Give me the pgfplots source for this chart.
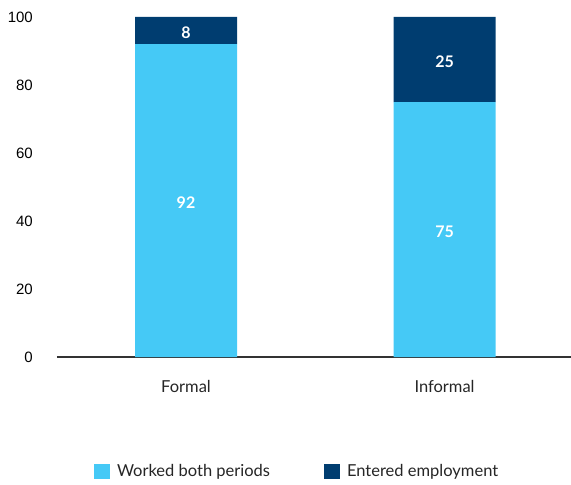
\documentclass[border=0pt]{standalone}
\usepackage{pgfplots}
\pgfplotsset{compat=1.18}
\usepackage{fontspec}
\setmainfont{Lato}
\newfontfamily\tickfont{Liberation Sans}
\definecolor{lightblue}{HTML}{45C9F6}
\definecolor{navy}{HTML}{003D70}
\pgfplotsset{sqlegend/.style={legend image code/.code={\fill[##1] (0pt,-7.5pt) rectangle (16pt,7.5pt);}}}
\begin{document}
\begin{tikzpicture}
\path[use as bounding box] (-57pt,-128pt) rectangle (514pt,357pt);
\begin{axis}[
  scale only axis,
  width=514pt, height=340pt,
  ybar stacked,
  bar width=102pt,
  xmin=-0.499, xmax=1.489,
  ymin=0, ymax=100,
  xtick={0,1}, xticklabels={Formal,Informal},
  ytick={0,20,40,60,80,100},
  major tick length=0pt,
  axis lines*=left,
  y axis line style={draw=none},
  x axis line style={-, draw=black!80, line width=1.2pt},
  /pgf/number format/assume math mode=true,
  yticklabel style={font=\fontsize{15}{18}\selectfont\tickfont, anchor=east, inner sep=0pt, xshift=-24pt},
  xticklabel style={font=\fontsize{16.5}{19}\selectfont, text=black!85, anchor=center, inner sep=0pt, yshift=-29pt},
  point meta=rawy,
  nodes near coords,
  every node near coord/.append style={font=\fontsize{16}{19}\selectfont\bfseries, text=white, anchor=center, yshift=-2.5pt},
  legend columns=2,
  legend style={draw=none, at={(0.072,-0.3353)}, anchor=west, inner sep=0pt, outer sep=0pt,
    font=\fontsize{16.5}{19}\selectfont, text=black!85,
    nodes={inner sep=0pt},
    /tikz/every odd column/.append style={column sep=7pt},
    /tikz/every even column/.append style={column sep=54pt}},
  clip=false,
]
\addplot[fill=lightblue, draw=none, sqlegend] coordinates {(0,92) (1,75)};
\addlegendentry{Worked both periods}
\addplot[fill=navy, draw=none, sqlegend] coordinates {(0,8) (1,25)};
\addlegendentry{Entered employment}
\end{axis}
\end{tikzpicture}
\end{document}
